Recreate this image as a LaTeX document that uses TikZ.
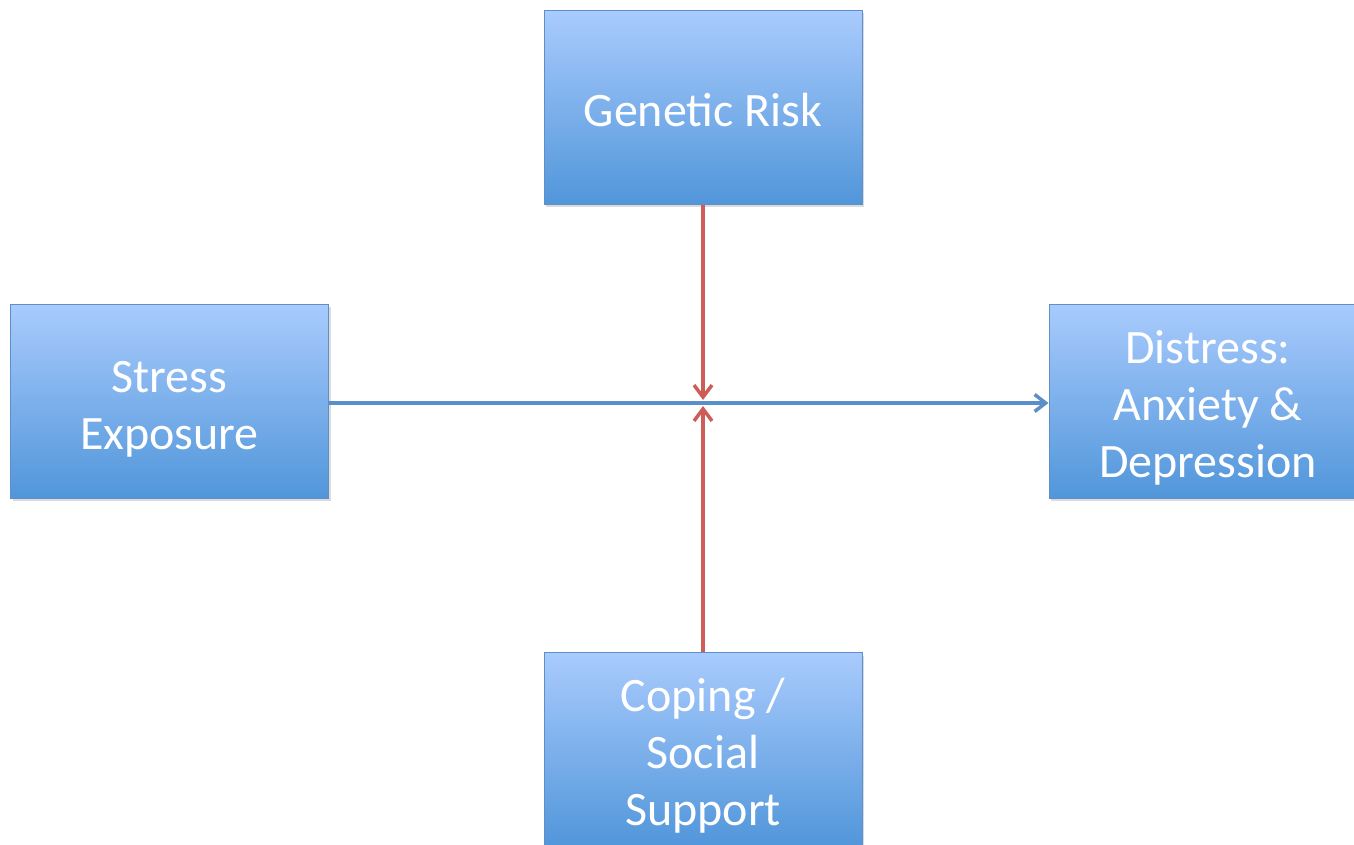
\documentclass[tikz,border=0pt]{standalone}
\usepackage{fontspec}
\setmainfont{Carlito}
\usetikzlibrary{arrows.meta,shadows}
\definecolor{boxtop}{HTML}{A9CBFD}
\definecolor{boxbot}{HTML}{5196DA}
\definecolor{boxedge}{HTML}{5E8FC8}
\definecolor{redline}{HTML}{CD5E57}
\definecolor{blueline}{HTML}{5A8FCA}
\tikzset{
  box/.style={draw=boxedge, line width=1pt, top color=boxtop, bottom color=boxbot,
    drop shadow={shadow xshift=2pt, shadow yshift=-3pt, opacity=0.35, fill=black!40},
    minimum width=318pt, minimum height=194pt, inner sep=0pt},
  lbl/.style={text=white, align=center, font=\fontsize{48}{57}\selectfont, inner sep=0pt},
  redarrow/.style={draw=redline, line width=3.5pt, -{Straight Barb[length=12pt,width=18pt,line width=3.5pt]}},
  bluearrow/.style={draw=blueline, line width=3.5pt, -{Straight Barb[length=11pt,width=17pt,line width=3.5pt]}}
}
\begin{document}
\begin{tikzpicture}[x=1pt,y=-1pt]
\useasboundingbox (0,0) rectangle (1354,845);
\clip (0,0) rectangle (1354,845);
\node[box] (gen) at (703,107.5) {};
\node[box] (stress) at (169.5,401) {};
\node[box] (dist) at (1208,401) {};
\node[box] (cope) at (703,749.5) {};
\node[lbl] (genT) at ([yshift=-3pt]gen.center) {Genetic Risk};
\node[lbl] (stressT) at ([yshift=-8pt]stress.center) {Stress\\Exposure};
\node[lbl] (distT) at ([yshift=-7pt]dist.center) {Distress:\\Anxiety \&\\Depression};
\node[lbl] (copeT) at ([yshift=-6pt]cope.center) {Coping /\\Social\\Support};
\coordinate (mid) at (703,403);
\draw[bluearrow] (stress.east |- mid) -- (dist.west |- mid);
\draw[redarrow] (gen.south) -- ([yshift=3pt]mid);
\draw[redarrow] (cope.north) -- ([yshift=-3pt]mid);
\end{tikzpicture}
\end{document}
